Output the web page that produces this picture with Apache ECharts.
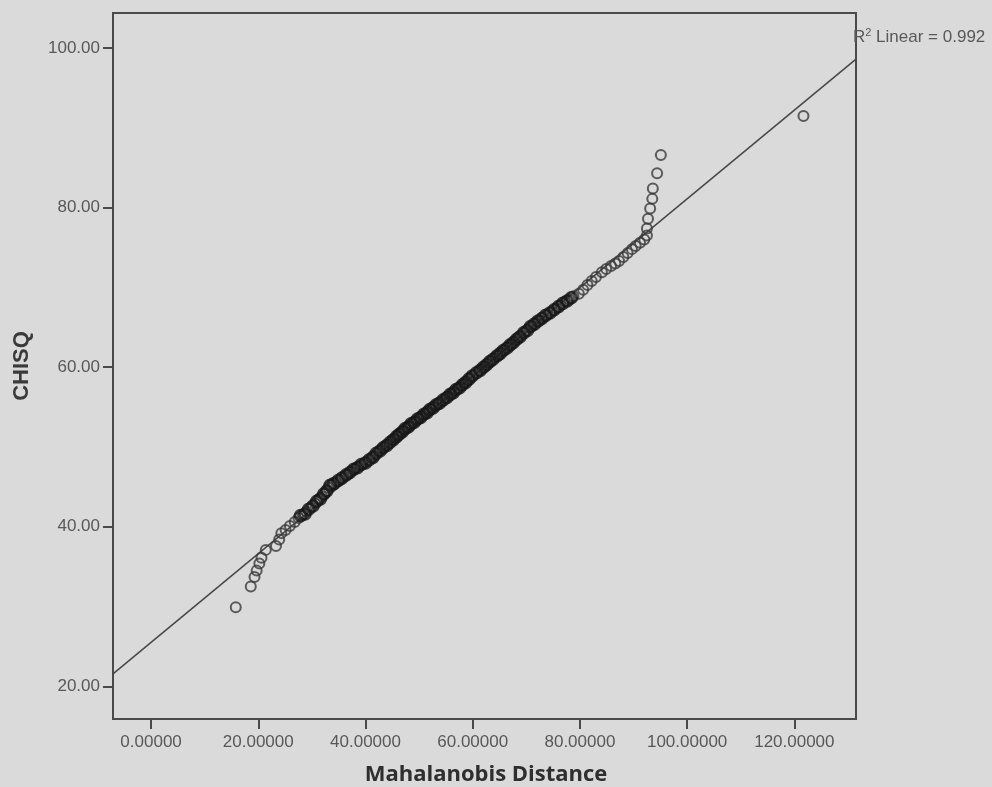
<!DOCTYPE html>
<html>
<head>
<meta charset="utf-8">
<script src="https://cdn.jsdelivr.net/npm/echarts@6/dist/echarts.min.js"></script>
<style>
  html, body { margin: 0; padding: 0; background: #dadada; }
  #chart { width: 992px; height: 787px; }
</style>
</head>
<body>
<div id="chart"></div>
<script>
// Q-Q points: [Mahalanobis distance, CHISQ]
const points = [
  [15.8, 29.9], [18.6, 32.5], [19.3, 33.7], [19.7, 34.5], [20.2, 35.4], [20.6, 36.1], [21.4, 37.1], [23.3, 37.6],
  [23.9, 38.4], [24.3, 39.2], [25.1, 39.6], [25.9, 40.1], [26.8, 40.6], [27.5, 41.1], [28.3, 41.5], [29.0, 41.9],
  [29.8, 42.4], [30.6, 42.9], [31.2, 43.4], [31.9, 43.8], [32.5, 44.3], [33.1, 44.9], [33.7, 45.3], [34.5, 45.6],
  [35.3, 45.9], [36.0, 46.3], [36.8, 46.6], [37.4, 47.0], [38.1, 47.3], [38.9, 47.6], [39.6, 47.9], [40.3, 48.2],
  [41.1, 48.6], [41.7, 48.9], [42.4, 49.4], [43.0, 49.7], [43.6, 50.1], [44.3, 50.4], [44.9, 50.8], [45.5, 51.1],
  [46.0, 51.4], [46.6, 51.8], [47.1, 52.1], [47.7, 52.4], [48.2, 52.7], [48.8, 53.0], [49.4, 53.3], [50.0, 53.6],
  [50.6, 53.9], [51.2, 54.2], [51.7, 54.5], [52.3, 54.8], [52.9, 55.1], [53.5, 55.4], [54.2, 55.7], [54.9, 56.1],
  [55.5, 56.4], [56.1, 56.7], [56.6, 57.0], [57.2, 57.3], [57.8, 57.6], [58.4, 58.0], [59.0, 58.3], [59.6, 58.7],
  [60.3, 59.1], [61.1, 59.5], [61.7, 59.8], [62.3, 60.1], [62.9, 60.5], [63.5, 60.8], [64.1, 61.2], [64.8, 61.5],
  [65.4, 61.9], [66.0, 62.2], [66.7, 62.6], [67.3, 62.9], [67.9, 63.3], [68.5, 63.7], [69.1, 64.0], [69.8, 64.5],
  [70.5, 64.9], [71.1, 65.2], [71.8, 65.6], [72.5, 65.9], [73.2, 66.3], [74.0, 66.6], [74.8, 67.0], [75.6, 67.4],
  [76.4, 67.8], [77.2, 68.2], [78.0, 68.5], [78.8, 68.9], [79.8, 69.2], [80.6, 69.7], [81.4, 70.3], [82.2, 70.8],
  [83.0, 71.3], [84.1, 71.9], [84.9, 72.3], [85.8, 72.7], [86.6, 73.0], [87.3, 73.3], [88.1, 73.8], [88.9, 74.3],
  [89.7, 74.8], [90.4, 75.2], [91.2, 75.6], [92.0, 76.0], [92.5, 76.5], [92.5, 77.4], [92.7, 78.6], [93.1, 79.9],
  [93.5, 81.1], [93.6, 82.4], [94.4, 84.3], [95.1, 86.6], [121.7, 91.5]
];

// the dense middle of the band, where the circles merge into a dark stripe
const pointsDense = [
  [27.9, 41.4], [28.7, 41.6], [29.4, 42.2], [30.2, 42.6], [30.9, 43.2], [31.6, 43.5], [32.2, 44.1], [32.8, 44.5],
  [33.4, 45.2], [34.1, 45.4], [34.9, 45.8], [35.6, 46.1], [36.4, 46.5], [37.1, 46.8], [37.8, 47.2], [38.5, 47.4],
  [39.2, 47.8], [40.0, 48.0], [40.7, 48.4], [41.4, 48.7], [42.0, 49.2], [42.7, 49.5], [43.3, 49.9], [44.0, 50.2],
  [44.6, 50.6], [45.2, 50.9], [45.8, 51.3], [46.3, 51.6], [46.9, 51.9], [47.4, 52.3], [48.0, 52.5], [48.5, 52.9],
  [49.1, 53.1], [49.7, 53.5], [50.3, 53.7], [50.9, 54.1], [51.5, 54.3], [52.0, 54.7], [52.6, 54.9], [53.2, 55.3],
  [53.8, 55.5], [54.5, 55.9], [55.2, 56.2], [55.8, 56.6], [56.4, 56.8], [56.9, 57.2], [57.5, 57.4], [58.1, 57.8],
  [58.7, 58.1], [59.3, 58.5], [59.9, 58.9], [60.7, 59.3], [61.4, 59.6], [62.0, 60.0], [62.6, 60.3], [63.2, 60.7],
  [63.8, 61.0], [64.5, 61.4], [65.1, 61.7], [65.7, 62.1], [66.4, 62.4], [67.0, 62.8], [67.6, 63.1], [68.2, 63.5],
  [68.8, 63.8], [69.5, 64.3], [70.2, 64.6], [70.8, 65.1], [71.5, 65.4], [72.2, 65.8], [72.9, 66.1], [73.6, 66.5],
  [74.4, 66.8], [75.2, 67.2], [76.0, 67.6], [76.8, 68.0], [77.6, 68.3], [78.4, 68.7]
];

// fit line (SPSS "Linear" fit)
const fitIntercept = 25.5;
const fitSlope = 0.556;
const rSquared = 0.992;

const xTicks = [0, 20, 40, 60, 80, 100, 120];
const yTicks = [20, 40, 60, 80, 100];
const xRange = [-7.1, 131.5];
const yRange = [15.9, 104.4];

const fitLine = xRange.map(x => [x, fitIntercept + fitSlope * x]);

const frame = '#4a4a4a';
const labelColor = '#585858';

const chart = echarts.init(document.getElementById('chart'));

chart.setOption({
  backgroundColor: '#dadada',
  animation: false,
  grid: {
    left: 113, right: 136, top: 13, bottom: 68,
    show: true, borderColor: frame, borderWidth: 2, backgroundColor: 'transparent'
  },
  xAxis: {
    type: 'value',
    min: xRange[0], max: xRange[1],
    splitLine: { show: false },
    axisLine: { show: true, onZero: false, lineStyle: { color: frame, width: 2 } },
    axisTick: { show: true, length: 10, customValues: xTicks, lineStyle: { color: frame, width: 2 } },
    axisLabel: {
      customValues: xTicks, margin: 15,
      color: labelColor, fontFamily: 'Liberation Sans, Arial, sans-serif', fontSize: 17,
      formatter: v => v.toFixed(5)
    }
  },
  yAxis: {
    type: 'value',
    min: yRange[0], max: yRange[1],
    splitLine: { show: false },
    axisLine: { show: true, onZero: false, lineStyle: { color: frame, width: 2 } },
    axisTick: { show: true, length: 10, customValues: yTicks, lineStyle: { color: frame, width: 2 } },
    axisLabel: {
      customValues: yTicks, margin: 13,
      color: labelColor, fontFamily: 'Liberation Sans, Arial, sans-serif', fontSize: 17,
      formatter: v => v.toFixed(2)
    }
  },
  graphic: [
    {
      type: 'text', left: 853, top: 27, z: 10,
      style: {
        text: '{r|R}{s|2}{t| Linear = ' + rSquared + '}',
        rich: {
          r: { fontSize: 17, fill: labelColor, fontFamily: 'Liberation Sans, Arial, sans-serif' },
          s: { fontSize: 11, fill: labelColor, verticalAlign: 'top', padding: [0, 0, 9, 0], fontFamily: 'Liberation Sans, Arial, sans-serif' },
          t: { fontSize: 17, fill: labelColor, fontFamily: 'Liberation Sans, Arial, sans-serif' }
        }
      }
    },
    {
      type: 'text', x: 22, y: 366, rotation: Math.PI / 2,
      style: {
        text: 'CHISQ', fill: '#3a3a3a', align: 'center', verticalAlign: 'middle',
        fontFamily: 'Liberation Sans, Arial, sans-serif', fontWeight: 'bold', fontSize: 22
      }
    },
    {
      type: 'text', x: 486, y: 775,
      style: {
        text: 'Mahalanobis Distance', fill: '#2e2e2e', align: 'center', verticalAlign: 'middle',
        fontFamily: 'Open Sans, DejaVu Sans, sans-serif', fontWeight: 'bold', fontSize: 22
      }
    }
  ],
  series: [
    {
      type: 'line',
      data: fitLine,
      showSymbol: false,
      silent: true,
      lineStyle: { color: '#474747', width: 1.5 },
      z: 1
    },
    {
      type: 'scatter',
      data: points,
      symbol: 'circle',
      symbolSize: 10,
      itemStyle: { color: 'transparent', borderColor: '#3a3a3a', borderWidth: 2 },
      z: 2
    },
    {
      type: 'scatter',
      data: pointsDense,
      symbol: 'circle',
      symbolSize: 11,
      itemStyle: { color: 'transparent', borderColor: '#161616', borderWidth: 2.6 },
      z: 3
    }
  ]
});
</script>
</body>
</html>
